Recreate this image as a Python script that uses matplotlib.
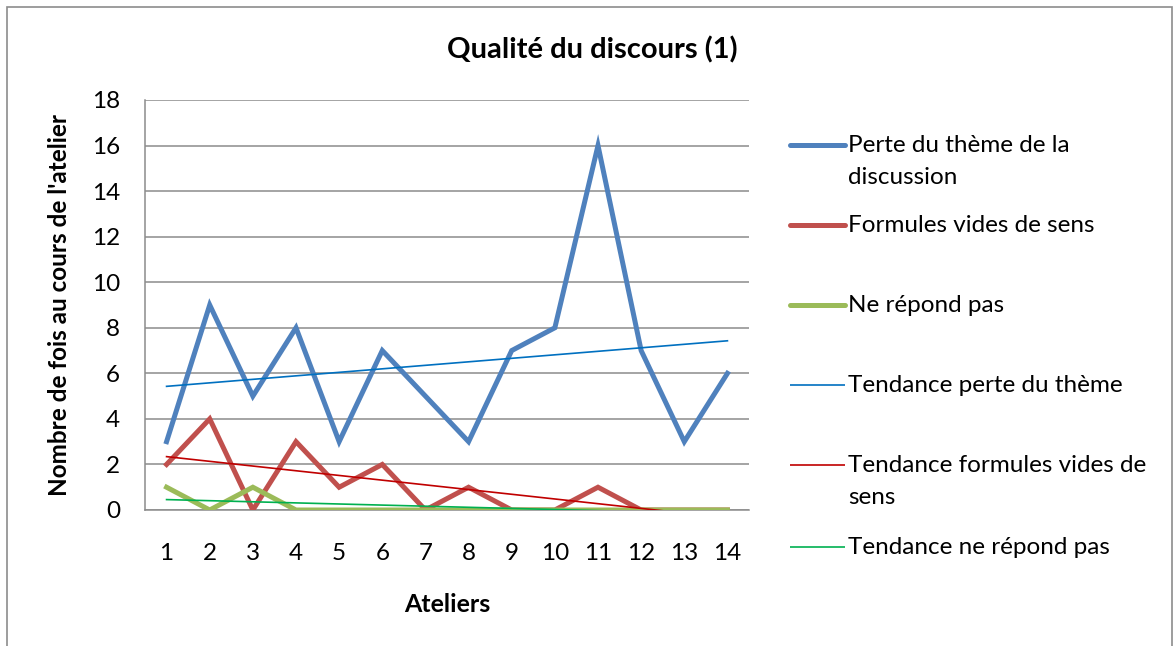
import numpy as np
import matplotlib
matplotlib.use("Agg")
import matplotlib.pyplot as plt
from matplotlib.lines import Line2D
from matplotlib.patches import Rectangle

# ---------------- Data ----------------
ateliers = list(range(1, 15))
perte_theme = [3, 9, 5, 8, 3, 7, 5, 3, 7, 8, 16, 7, 3, 6]
formules_vides = [2, 4, 0, 3, 1, 2, 0, 1, 0, 0, 1, 0, 0, 0]
ne_repond_pas = [1, 0, 1, 0, 0, 0, 0, 0, 0, 0, 0, 0, 0, 0]

series_labels = ["Perte du thème de la\ndiscussion", "Formules vides de sens", "Ne répond pas"]
trend_labels = ["Tendance perte du thème", "Tendance formules vides de\nsens", "Tendance ne répond pas"]

# ---------------- Style ----------------
plt.rcParams["font.family"] = ["Lato", "DejaVu Sans"]
series_colors = ["#4F81BD", "#C0504D", "#9BBB59"]
trend_colors = ["#0070C0", "#C00000", "#00B050"]
W, H = 1175, 646

fig = plt.figure(figsize=(W / 100, H / 100), dpi=100)
ax = fig.add_axes([145 / W, 1 - 510 / H, (749 - 145) / W, (510 - 100) / H])

x = np.array(ateliers)
all_series = [perte_theme, formules_vides, ne_repond_pas]

for y, c in zip(all_series, series_colors):
    ax.plot(x, y, color=c, lw=3.6, solid_joinstyle="miter", zorder=3)

# linear trend lines
for y, c in zip(all_series, trend_colors):
    slope, inter = np.polyfit(x, y, 1)
    ax.plot(x, slope * x + inter, color=c, lw=1.2, zorder=4)

ax.set_xlim(0.5, 14.5)
ax.set_ylim(0, 18)
ax.set_xticks(ateliers)
ax.set_yticks(range(0, 19, 2))
ax.grid(axis="y", color="#8C8C8C", lw=1.1)
ax.set_axisbelow(True)
for s in ["top", "right"]:
    ax.spines[s].set_visible(False)
for s in ["left", "bottom"]:
    ax.spines[s].set_color("#8C8C8C")
    ax.spines[s].set_linewidth(1.1)
ax.tick_params(axis="both", length=0, labelsize=17.5)
ax.tick_params(axis="y", pad=18)
ax.tick_params(axis="x", pad=24)

fig.text(592 / W, 1 - 50 / H, "Qualité du discours (1)", fontsize=21, fontweight="bold",
         ha="center", va="center")
ax.set_xlabel("Ateliers", fontsize=18, fontweight="bold")
ax.xaxis.set_label_coords(447 / W, 1 - 605 / H, transform=fig.transFigure)
ax.set_ylabel("Nombre de fois au cours de l'atelier", fontsize=17.5, fontweight="bold")
ax.yaxis.set_label_coords(60 / W, 1 - 305 / H, transform=fig.transFigure)
ax.xaxis.label.set_va("center")
ax.yaxis.label.set_va("center")

# ---------------- Legend (Excel-like, right side) ----------------
legend_rows = [145, 225, 305, 385, 465, 547]
handles = list(zip(series_labels, series_colors, [3.6] * 3)) + list(zip(trend_labels, trend_colors, [1.2] * 3))
for yrow, (lab, c, lw) in zip(legend_rows, handles):
    yf = 1 - yrow / H
    fig.add_artist(Line2D([790 / W, 845 / W], [yf, yf], color=c, lw=lw,
                          solid_capstyle="round" if lw > 2 else "butt"))
    for i, line in enumerate(lab.split("\n")):
        fig.text(848 / W, 1 - (yrow + 32 * i) / H, line, fontsize=17.5, va="center", ha="left")

# outer chart border
fig.add_artist(Rectangle((7 / W, -0.1), 1165 / W, 1.1 - 7 / H, transform=fig.transFigure,
                         fill=False, edgecolor="#8C8C8C", lw=1.2))

fig.savefig("out.png", dpi=100)
